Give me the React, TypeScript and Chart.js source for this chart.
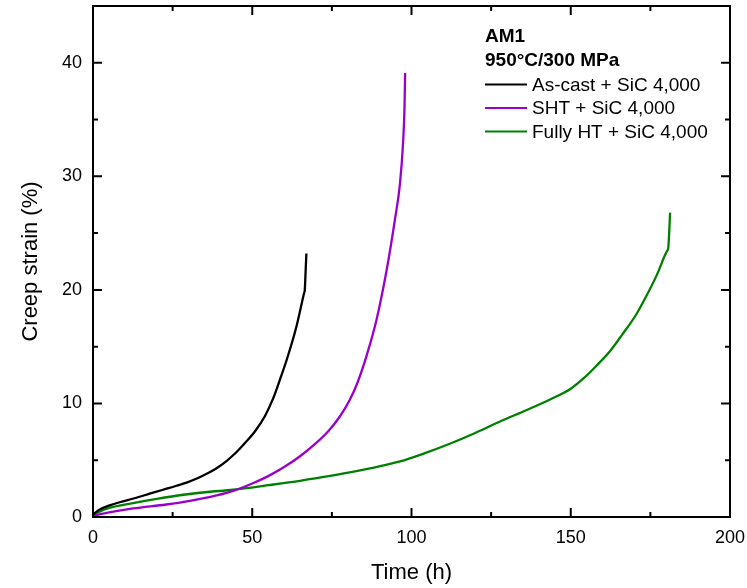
import React, { useEffect, useRef } from 'react';
import { Chart, registerables } from 'chart.js';

Chart.register(...registerables);

// ---- data ----
const asCastTime = [0, 2, 5, 8.4, 13, 17.8, 22, 26.2, 30, 33.5, 36, 38.8, 42, 45, 48, 51, 54, 56.5, 58.7, 61, 63.9, 66.3, 66.5, 66.75, 67];
const asCastStrain = [0.2, 0.65, 1.0, 1.3, 1.65, 2.05, 2.4, 2.75, 3.1, 3.5, 3.85, 4.3, 4.95, 5.7, 6.6, 7.6, 8.9, 10.4, 12.1, 14.0, 16.8, 19.75, 20.0, 21.6, 23.2];

const shtTime = [0, 5, 12.6, 23, 30, 38.8, 44, 50, 55, 60, 65, 70, 74, 77.5, 80.6, 83, 86, 89, 92.2, 94.8, 96.4, 97.4, 97.8, 98];
const shtStrain = [0.1, 0.4, 0.75, 1.1, 1.4, 1.9, 2.3, 2.95, 3.6, 4.4, 5.35, 6.5, 7.6, 8.85, 10.3, 11.8, 14.3, 17.35, 21.75, 26.2, 29.4, 33.2, 36, 39.1];

const fullyTime = [0, 1.1, 5, 12.6, 20, 28.3, 36, 44, 55, 65, 80.6, 96.4, 104, 112, 120, 127.8, 136, 143.5, 150, 154, 158, 162.3, 166, 170.7, 174, 177, 180.3, 180.6, 181.2];
const fullyStrain = [0.2, 0.35, 0.8, 1.23, 1.6, 1.96, 2.2, 2.4, 2.8, 3.19, 3.92, 4.89, 5.6, 6.45, 7.4, 8.41, 9.4, 10.35, 11.3, 12.2, 13.3, 14.6, 16.0, 17.9, 19.6, 21.3, 23.45, 23.66, 26.8];

const seriesLabels = ['As-cast + SiC 4,000', 'SHT + SiC 4,000', 'Fully HT + SiC 4,000'];
const seriesColors = ['#000000', '#9900CC', '#008000'];
const legendTitles = ['AM1', '950°C/300 MPa'];
const xTitle = 'Time (h)';
const yTitle = 'Creep strain (%)';
const xMin = 0, xMax = 200, xStep = 50;
const yMin = 0, yMax = 45, yStep = 10;

const FONT = '"Liberation Sans", Arial, sans-serif';

function toPoints(xs: number[], ys: number[]) {
  return xs.map((x, i) => ({ x, y: ys[i] }));
}

const frameTicksPlugin = {
  id: 'frameTicks',
  afterDatasetsDraw(chart: any) {
    const { ctx, chartArea } = chart;
    const xs = chart.scales.x;
    const ys = chart.scales.y;
    const { left, right, top, bottom } = chartArea;
    ctx.save();
    ctx.strokeStyle = '#000';
    ctx.lineWidth = 2;
    ctx.strokeRect(left, top, right - left, bottom - top);
    const major = 9, minor = 5;
    const xVals: number[] = xs.ticks.map((t: any) => t.value);
    for (let i = 0; i < xVals.length; i++) {
      const v = xVals[i];
      const px = xs.getPixelForValue(v);
      ctx.beginPath();
      ctx.moveTo(px, bottom); ctx.lineTo(px, bottom - major);
      ctx.moveTo(px, top); ctx.lineTo(px, top + major);
      ctx.stroke();
      if (i < xVals.length - 1) {
        const m = xs.getPixelForValue((v + xVals[i + 1]) / 2);
        ctx.beginPath();
        ctx.moveTo(m, bottom); ctx.lineTo(m, bottom - minor);
        ctx.moveTo(m, top); ctx.lineTo(m, top + minor);
        ctx.stroke();
      }
    }
    const yVals: number[] = ys.ticks.map((t: any) => t.value).filter((v: number) => v % yStep === 0);
    for (let i = 0; i < yVals.length; i++) {
      const v = yVals[i];
      const py = ys.getPixelForValue(v);
      ctx.beginPath();
      ctx.moveTo(left, py); ctx.lineTo(left + major, py);
      ctx.moveTo(right, py); ctx.lineTo(right - major, py);
      ctx.stroke();
      const mv = v + yStep / 2;
      if (mv < yMax) {
        const m = ys.getPixelForValue(mv);
        ctx.beginPath();
        ctx.moveTo(left, m); ctx.lineTo(left + minor, m);
        ctx.moveTo(right, m); ctx.lineTo(right - minor, m);
        ctx.stroke();
      }
    }
    ctx.restore();
  },
};

const legendPlugin = {
  id: 'customLegend',
  afterDraw(chart: any) {
    const { ctx } = chart;
    const x0 = 485;
    let y = 37;
    const rowH = 23.5;
    ctx.save();
    ctx.textBaseline = 'middle';
    ctx.textAlign = 'left';
    ctx.fillStyle = '#000';
    ctx.font = `bold 19px ${FONT}`;
    legendTitles.forEach((t) => {
      ctx.fillText(t, x0, y);
      y += rowH;
    });
    y += 1.5;
    ctx.font = `19px ${FONT}`;
    chart.data.datasets.forEach((ds: any) => {
      ctx.strokeStyle = ds.borderColor;
      ctx.lineWidth = 2.2;
      ctx.beginPath();
      ctx.moveTo(x0, y - 1);
      ctx.lineTo(x0 + 42, y - 1);
      ctx.stroke();
      ctx.fillStyle = '#000';
      ctx.fillText(ds.label, x0 + 47, y);
      y += rowH;
    });
    ctx.restore();
  },
};

export default function App() {
  const ref = useRef<HTMLCanvasElement | null>(null);
  useEffect(() => {
    document.body.style.margin = '0';
    const canvas = ref.current!;
    const chart = new Chart(canvas, {
      type: 'line',
      data: {
        datasets: [
          { label: seriesLabels[0], data: toPoints(asCastTime, asCastStrain), borderColor: seriesColors[0] },
          { label: seriesLabels[1], data: toPoints(shtTime, shtStrain), borderColor: seriesColors[1] },
          { label: seriesLabels[2], data: toPoints(fullyTime, fullyStrain), borderColor: seriesColors[2] },
        ].map((d) => ({
          ...d,
          backgroundColor: d.borderColor,
          borderWidth: 2.3,
          pointRadius: 0,
          fill: false,
          cubicInterpolationMode: 'monotone' as const,
        })),
      },
      options: {
        responsive: false,
        animation: false,
        events: [],
        layout: { padding: { left: 0, right: 17, top: 6, bottom: 0 } },
        plugins: { legend: { display: false }, tooltip: { enabled: false } },
        scales: {
          x: {
            type: 'linear',
            min: xMin,
            max: xMax,
            grid: { display: false, drawTicks: false },
            border: { display: false },
            ticks: { stepSize: xStep, padding: 10, color: '#000', font: { family: FONT, size: 18 } },
            title: { display: true, text: xTitle, color: '#000', font: { family: FONT, size: 22 }, padding: { top: 0, bottom: 2 } },
            afterFit: (s: any) => {
              s.height = 71;
              s.paddingLeft = 0; s.paddingRight = 0; s.paddingTop = 0; s.paddingBottom = 0;
            },
          },
          y: {
            type: 'linear',
            min: yMin,
            max: yMax,
            grid: { display: false, drawTicks: false },
            border: { display: false },
            ticks: {
              stepSize: yStep,
              includeBounds: false,
              padding: 11,
              color: '#000',
              font: { family: FONT, size: 18 },
              callback: (v: any) => (Number(v) % yStep === 0 ? String(v) : ''),
            },
            title: { display: true, text: yTitle, color: '#000', font: { family: FONT, size: 22 }, padding: { top: 18, bottom: 0 } },
            afterFit: (s: any) => {
              s.width = 93;
              s.paddingLeft = 0; s.paddingRight = 0; s.paddingTop = 0; s.paddingBottom = 0;
            },
          },
        },
      },
      plugins: [frameTicksPlugin, legendPlugin],
    });
    return () => chart.destroy();
  }, []);
  return (
    <div style={{ width: 747, height: 588 }}>
      <canvas ref={ref} width={747} height={588} style={{ display: 'block' }} />
    </div>
  );
}
